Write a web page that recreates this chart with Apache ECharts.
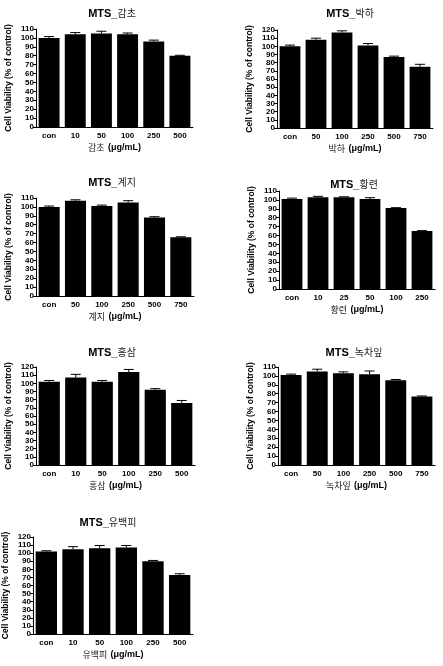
<!DOCTYPE html>
<html>
<head>
<meta charset="utf-8">
<script src="https://cdn.jsdelivr.net/npm/echarts@6/dist/echarts.min.js"></script>
<style>
  html, body { margin: 0; padding: 0; background: #fff; }
  #chart { width: 443px; height: 666px; }
</style>
</head>
<body>
<div id="chart"></div>
<script>
// herb names (panel order)
var herbs = ['감초', '박하', '계지', '황련', '홍삼', '녹차잎', '유백피'];
// concentration categories per panel
var cats = [
  ['con', '10', '50', '100', '250', '500'],
  ['con', '50', '100', '250', '500', '750'],
  ['con', '50', '100', '250', '500', '750'],
  ['con', '10', '25', '50', '100', '250'],
  ['con', '10', '50', '100', '250', '500'],
  ['con', '50', '100', '250', '500', '750'],
  ['con', '10', '50', '100', '250', '500']
];
// mean cell viability (% of control)
var means = [
  [100, 104, 105, 104, 96, 80],
  [100, 108, 117, 101, 87, 75],
  [100, 107, 101, 105, 88, 66],
  [101, 103, 103, 101, 91, 65],
  [102, 107, 102, 114, 92, 76],
  [101, 105, 103, 102, 95, 77],
  [102, 105, 106, 107, 90, 73]
];
// error (upper) values
var errs = [
  [1.5, 2, 2.5, 1.5, 1.5, 0.5],
  [1.5, 2, 2, 2.5, 1, 3],
  [1, 1, 1, 2, 1, 0.5],
  [1, 1, 0.5, 1.5, 0.3, 0.5],
  [1.5, 4, 1.5, 3, 1.5, 3],
  [1, 2.5, 1.5, 3.5, 1, 0.5],
  [1, 3, 3.5, 2.5, 1, 1.5]
];
var yMax = [110, 120, 110, 110, 120, 110, 120];

// layout of each panel: [left, top, width, height, titleX, titleY]
var layout = [
  [36, 29, 157, 98, 112, 8],
  [277, 30, 156, 98, 350, 8],
  [36, 198, 158, 98, 112, 177],
  [279, 191, 156, 98, 354, 179],
  [36, 367, 159, 98, 112, 347],
  [278, 367, 157, 98, 354, 347],
  [33, 537, 160, 97, 108, 517]
];

var font = 'Liberation Sans, Arial, Noto Sans CJK KR, sans-serif';
var kfont = 'Noto Sans CJK KR, sans-serif';

var myChart = echarts.init(document.getElementById('chart'));

var grids = [], xAxes = [], yAxes = [], series = [], titles = [];

for (var i = 0; i < herbs.length; i++) {
  var L = layout[i];
  grids.push({ left: L[0], top: L[1], width: L[2], height: L[3], containLabel: false });
  titles.push({
    text: '{a|MTS_}{b|' + herbs[i] + '}',
    left: L[4],
    top: L[5],
    textAlign: 'center',
    padding: 0,
    textStyle: {
      rich: {
        a: { fontFamily: font, fontWeight: 'bold', fontSize: 11, color: '#000' },
        b: { fontFamily: kfont, fontWeight: 'normal', fontSize: 10, color: '#222' }
      }
    }
  });
  xAxes.push({
    type: 'category',
    gridIndex: i,
    data: cats[i],
    name: '{k|' + herbs[i] + '} {u|(μg/mL)}',
    nameLocation: 'middle',
    nameGap: 15,
    nameTextStyle: {
      rich: {
        k: { fontFamily: kfont, fontSize: 9, color: '#222' },
        u: { fontFamily: font, fontSize: 9, fontWeight: 'bold', color: '#000' }
      }
    },
    axisLine: { lineStyle: { color: '#000', width: 1 } },
    axisTick: { show: false },
    axisLabel: { color: '#000', fontFamily: font, fontWeight: 'bold', fontSize: 8, margin: 5 }
  });
  yAxes.push({
    type: 'value',
    gridIndex: i,
    min: 0,
    max: yMax[i],
    interval: 10,
    name: 'Cell Viability (% of control)',
    nameLocation: 'middle',
    nameGap: 23,
    nameTextStyle: { fontFamily: font, fontWeight: 'bold', fontSize: 8.5, color: '#000' },
    axisLine: { show: true, lineStyle: { color: '#000', width: 1 } },
    axisTick: { show: true, length: 3, lineStyle: { color: '#000' } },
    axisLabel: { color: '#000', fontFamily: font, fontWeight: 'bold', fontSize: 8, margin: 2 },
    splitLine: { show: false }
  });
  series.push({
    type: 'bar',
    xAxisIndex: i,
    yAxisIndex: i,
    data: means[i],
    barCategoryGap: '20%',
    itemStyle: { color: '#000' },
    silent: true
  });
  var ed = [];
  for (var j = 0; j < means[i].length; j++) {
    ed.push([j, means[i][j], means[i][j] + errs[i][j]]);
  }
  series.push({
    type: 'custom',
    xAxisIndex: i,
    yAxisIndex: i,
    data: ed,
    silent: true,
    z: 3,
    renderItem: function (params, api) {
      var x = api.value(0);
      var lo = api.coord([x, api.value(1)]);
      var hi = api.coord([x, api.value(2)]);
      var hw = 5;
      return {
        type: 'group',
        children: [
          { type: 'line', shape: { x1: lo[0], y1: lo[1], x2: hi[0], y2: hi[1] }, style: { stroke: '#000', lineWidth: 1 } },
          { type: 'line', shape: { x1: hi[0] - hw, y1: hi[1], x2: hi[0] + hw, y2: hi[1] }, style: { stroke: '#000', lineWidth: 1 } }
        ]
      };
    }
  });
}

var option = {
  backgroundColor: '#fff',
  animation: false,
  title: titles,
  grid: grids,
  xAxis: xAxes,
  yAxis: yAxes,
  series: series
};
myChart.setOption(option);
</script>
</body>
</html>
